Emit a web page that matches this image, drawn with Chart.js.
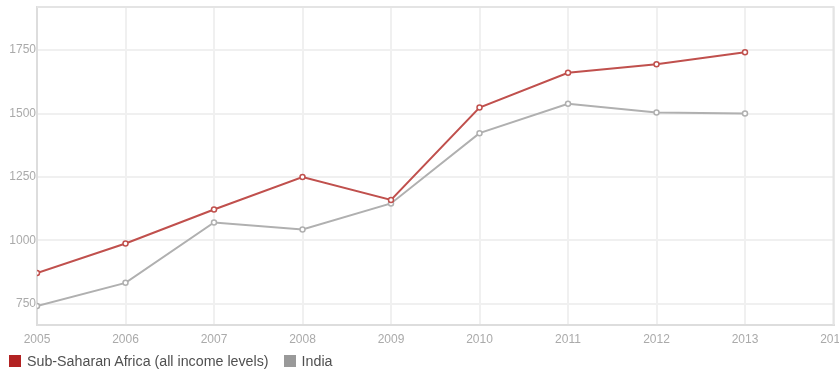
<!DOCTYPE html>
<html>
<head>
<meta charset="utf-8">
<script src="https://cdn.jsdelivr.net/npm/chart.js@4"></script>
<style>
  html, body { margin: 0; padding: 0; background: #fff; }
  #wrap { position: relative; width: 839px; height: 374px; }
  #legend { position: absolute; left: 9px; top: 353px; font: 14.25px Arial, "Liberation Sans", sans-serif; color: #505050; white-space: nowrap; }
  #legend span.item { display: inline-block; margin-right: 15px; }
  #legend span.box { display: inline-block; width: 12px; height: 12px; margin-right: 6px; vertical-align: -1px; }
</style>
</head>
<body>
<div id="wrap">
  <canvas id="chart" width="839" height="374"></canvas>
  <div id="legend"></div>
</div>
<script>
const years = [2005, 2006, 2007, 2008, 2009, 2010, 2011, 2012, 2013];
const ssaValues = [872, 988, 1122, 1250, 1160, 1524, 1661, 1694, 1742];
const indiaValues = [742, 833, 1071, 1043, 1146, 1423, 1539, 1504, 1500];
const yTicks = [750, 1000, 1250, 1500, 1750];
const seriesNames = ["Sub-Saharan Africa (all income levels)", "India"];
const lineColors = ["#c0504d", "#b0b0b0"];
const legendColors = ["#b22222", "#999999"];

const toPoints = vals => vals.map((v, i) => ({ x: years[i], y: v }));
const font = { family: "Arial, 'Liberation Sans', sans-serif", size: 12 };

// html legend
document.getElementById("legend").innerHTML = seriesNames.map((n, i) =>
  `<span class="item"><span class="box" style="background:${legendColors[i]}"></span>${n}</span>`
).join("");

new Chart(document.getElementById("chart"), {
  type: "line",
  data: {
    datasets: seriesNames.map((name, i) => ({
      label: name,
      data: toPoints(i === 0 ? ssaValues : indiaValues),
      borderColor: lineColors[i],
      borderWidth: 2,
      pointRadius: 2.5,
      pointBorderWidth: 1.5,
      pointBackgroundColor: "#fff",
      pointBorderColor: lineColors[i],
      tension: 0
    }))
  },
  options: {
    responsive: false,
    animation: false,
    layout: { padding: { top: 7, right: 5, left: 1, bottom: 26 } },
    plugins: {
      tooltip: { enabled: false },
      legend: { display: false }
    },
    scales: {
      x: {
        type: "linear",
        min: 2005,
        max: 2014,
        ticks: {
          stepSize: 1,
          color: "#aaa",
          padding: 7,
          maxRotation: 0,
          font,
          callback: v => String(v)
        },
        grid: { color: "#f0f0f0", lineWidth: 2, drawTicks: false },
        border: { color: "#dddddd", width: 2 },
        afterFit: s => { s.height = 23; s.paddingLeft = 0; s.paddingRight = 0; }
      },
      y: {
        min: 667,
        max: 1920,
        afterBuildTicks: s => { s.ticks = yTicks.map(v => ({ value: v })); },
        ticks: {
          color: "#aaa",
          padding: 1,
          font,
          callback: v => String(v)
        },
        grid: { color: "#f0f0f0", lineWidth: 2, drawTicks: false },
        border: { color: "#dddddd", width: 2 },
        afterFit: s => { s.width = 36; s.paddingTop = 0; s.paddingBottom = 0; }
      }
    }
  },
  plugins: [{
    id: "frame",
    afterDraw(chart) {
      const { ctx, chartArea: a } = chart;
      ctx.save();
      ctx.strokeStyle = "#e4e4e4";
      ctx.lineWidth = 2;
      ctx.beginPath();
      ctx.moveTo(a.left, a.top);
      ctx.lineTo(a.right, a.top);
      ctx.lineTo(a.right, a.bottom);
      ctx.stroke();
      ctx.restore();
    }
  }]
});
</script>
</body>
</html>
